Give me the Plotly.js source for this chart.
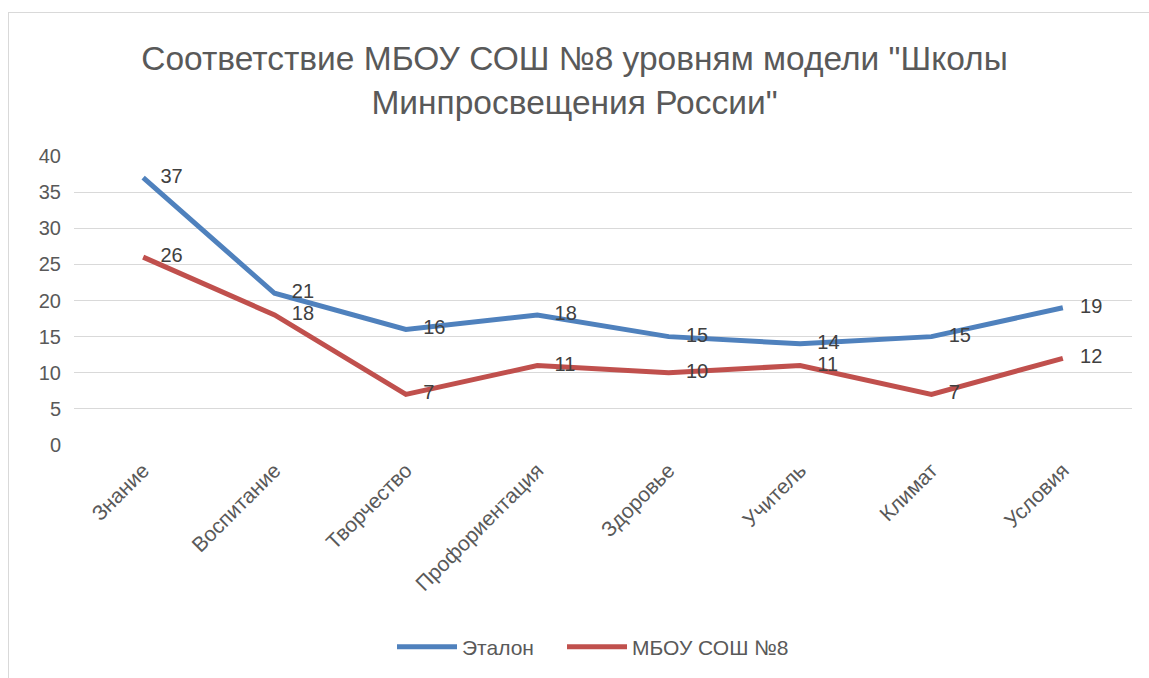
<!DOCTYPE html>
<html>
<head>
<meta charset="utf-8">
<script src="https://cdn.plot.ly/plotly-3.0.1.min.js"></script>
<style>
  html, body { margin: 0; padding: 0; background: #ffffff; }
  #wrap { position: relative; width: 1149px; height: 678px; overflow: hidden; }
  #frame { position: absolute; left: 8px; top: 12px; width: 1160px; height: 700px;
           border-left: 1px solid #d9d9d9; border-top: 1px solid #d9d9d9; pointer-events: none; z-index: 2; }
  #chart { position: absolute; left: 0; top: 0; width: 1149px; height: 678px; }
</style>
</head>
<body>
<div id="wrap">
  <div id="chart"></div>
  <div id="frame"></div>
</div>
<script>
const categories = ["Знание", "Воспитание", "Творчество", "Профориентация", "Здоровье", "Учитель", "Климат", "Условия"];
const etalonValues = [37, 21, 16, 18, 15, 14, 15, 19];
const schoolValues = [26, 18, 7, 11, 10, 11, 7, 12];
const seriesNames = ["Эталон", "МБОУ СОШ №8"];
const yTicks = [0, 5, 10, 15, 20, 25, 30, 35, 40];

const FONT = "'Liberation Sans', Arial, sans-serif";
const GREY = "#595959";

function series(name, values, color, legendId) {
  return {
    type: "scatter",
    mode: "lines+markers+text",
    name: name,
    legend: legendId,
    x: categories,
    y: values,
    text: values.map(String),
    textposition: "middle right",
    textfont: { family: FONT, size: 20, color: "#404040" },
    line: { color: color, width: 5 },
    marker: { size: 26, color: "rgba(0,0,0,0)", line: { width: 0 } },
    cliponaxis: false,
    hoverinfo: "x+y+name"
  };
}

const data = [
  series(seriesNames[0], etalonValues, "#4F81BD", "legend"),
  series(seriesNames[1], schoolValues, "#C0504D", "legend2")
];

function legendAt(leftPx) {
  return {
    orientation: "h",
    x: leftPx / 1149, xanchor: "left",
    xref: "container",
    y: 1 - 647 / 678, yref: "container", yanchor: "middle",
    font: { family: FONT, size: 21, color: GREY },
    itemwidth: 60,
    bgcolor: "rgba(0,0,0,0)"
  };
}

const layout = {
  width: 1149,
  height: 678,
  paper_bgcolor: "rgba(0,0,0,0)",
  plot_bgcolor: "rgba(0,0,0,0)",
  margin: { l: 74, r: 17, t: 156, b: 233 },
  title: {
    text: "Соответствие МБОУ СОШ №8 уровням модели \"Школы<br>Минпросвещения России\"",
    font: { family: FONT, size: 33.5, color: GREY },
    x: 0.5, xanchor: "center",
    y: 1 - 70 / 678, yref: "container", yanchor: "top"
  },
  showlegend: true,
  legend: legendAt(392),
  legend2: legendAt(562),
  xaxis: {
    type: "category",
    tickangle: -45,
    tickfont: { family: FONT, size: 21, color: GREY },
    showgrid: false,
    showline: false,
    zeroline: false,
    ticks: "",
    ticklabelstandoff: 8,
    automargin: false
  },
  yaxis: {
    range: [0, 40],
    tickvals: yTicks,
    ticktext: yTicks.map(String),
    tickfont: { family: FONT, size: 20, color: GREY },
    showgrid: true,
    gridcolor: "#d9d9d9",
    gridwidth: 1,
    zeroline: false,
    showline: false,
    ticks: "",
    ticklabelstandoff: 12,
    automargin: false,
    fixedrange: true
  }
};

Plotly.newPlot("chart", data, layout, { displayModeBar: false, staticPlot: true });
</script>
</body>
</html>
